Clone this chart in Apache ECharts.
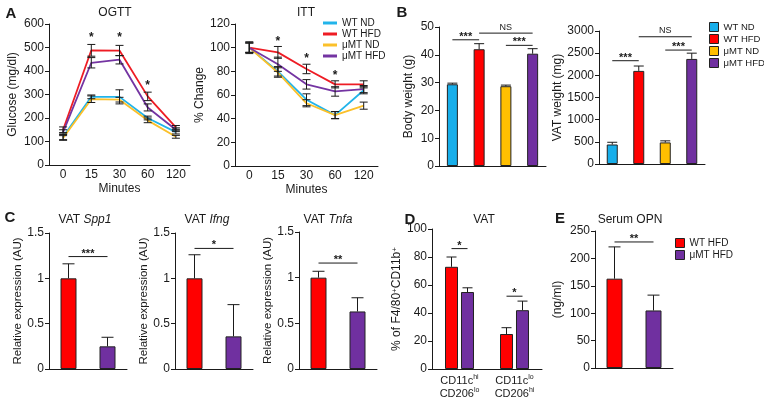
<!DOCTYPE html>
<html>
<head>
<meta charset="utf-8">
<script src="https://cdn.jsdelivr.net/npm/echarts/dist/echarts.min.js"></script>
<style>
html, body { margin: 0; padding: 0; background: #fff; }
#chart { width: 764px; height: 404px; }
</style>
</head>
<body>
<div id="chart"></div>
<script>
// ---- data ----
var groups = ['WT ND', 'WT HFD', 'μMT ND', 'μMT HFD'];
var minutes = ['0', '15', '30', '60', '120'];

// A: OGTT (mg/dl)
var ogttWtNd = [120, 290, 290, 200, 140];
var ogttWtNdErr = [12, 8, 30, 8, 8];
var ogttWtHfd = [150, 488, 487, 292, 160];
var ogttWtHfdErr = [12, 25, 22, 18, 8];
var ogttMtNd = [115, 280, 278, 190, 120];
var ogttMtNdErr = [10, 14, 10, 10, 6];
var ogttMtHfd = [140, 435, 448, 245, 150];
var ogttMtHfdErr = [10, 22, 18, 15, 8];
var ogttStarAt = [1, 2, 3];
var ogttStarY = [550, 550, 348];

// A: ITT (% change)
var ittWtNd = [100, 80, 56, 43, 64];
var ittWtNdErr = [4, 4, 5, 3, 3];
var ittWtHfd = [100, 96, 82, 69, 69];
var ittWtHfdErr = [5, 5, 4, 3, 3];
var ittMtNd = [100, 79, 53, 43, 51];
var ittMtNdErr = [4, 4, 3, 3, 3];
var ittMtHfd = [100, 86, 69, 63, 65];
var ittMtHfdErr = [4, 6, 4, 4, 3];
var ittStarAt = [1, 2, 3];
var ittStarY = [107, 92, 78];

// B
var bodyWeight = [29.4, 42, 28.7, 40.4];
var bodyWeightErr = [0.4, 2, 0.4, 1.8];
var bodySig = [[0, 1, 45.4], [1, 3, 47.8], [2, 3, 43.4]];
var bodySigText = ['***', 'NS', '***'];
var vatWeight = [440, 2100, 487, 2370];
var vatWeightErr = [50, 110, 35, 130];
var vatSig = [[0, 1, 2330], [1, 3, 2870], [2, 3, 2570]];
var vatSigText = ['***', 'NS', '***'];

// C (AU) - WT HFD vs uMT HFD
var hfdGroups = ['WT HFD', 'μMT HFD'];
var spp1 = [1, 0.25];
var spp1Err = [0.16, 0.1];
var ifng = [1, 0.36];
var ifngErr = [0.26, 0.35];
var tnfa = [1, 0.63];
var tnfaErr = [0.07, 0.15];
var spp1Sig = [[0, 1, 1.24]], ifngSig = [[0, 1, 1.33]], tnfaSig = [[0, 1, 1.16]];
var spp1SigText = ['***'], ifngSigText = ['*'], tnfaSigText = ['**'];

// D
var dCats = ['CD11c^hi CD206^lo', 'CD11c^lo CD206^hi'];
var dWt = [73, 25];
var dWtErr = [7, 4.5];
var dMt = [55, 42];
var dMtErr = [3, 6.5];
var dSig = [[0, 0, 86], [1, 1, 52]];
var dSigText = ['*', '*'];

// E
var opn = [163, 105];
var opnErr = [58, 28];
var opnSig = [[0, 1, 230]];
var opnSigText = ['**'];

// ---- styling ----
var FONT = '"Liberation Sans", Arial, Helvetica, sans-serif';
var INK = '#1a1a1a';
var lineColors = ['#22b4ea', '#ee1c24', '#fbc02a', '#7434a2'];
var barColors = ['#17aeea', '#ff0000', '#ffbf00', '#7030a0'];

var grids = [
  {left: 49, top: 24, width: 141, height: 141},
  {left: 235, top: 24, width: 143, height: 142},
  {left: 439, top: 27, width: 107, height: 139},
  {left: 599, top: 31, width: 106, height: 133},
  {left: 49, top: 233, width: 78, height: 136},
  {left: 175, top: 233, width: 78, height: 136},
  {left: 299, top: 232, width: 78, height: 137},
  {left: 432, top: 229, width: 110, height: 140},
  {left: 595, top: 231, width: 78, height: 137}
];
grids.forEach(function (g) { g.outerBoundsMode = 'none'; g.containLabel = false; });

function xCat(gi, data, showLabel, extra) {
  return Object.assign({
    type: 'category', gridIndex: gi, data: data,
    axisTick: {show: false},
    axisLine: {lineStyle: {color: INK, width: 1}},
    axisLabel: {show: showLabel, color: INK, fontSize: 12, margin: 4, fontFamily: FONT}
  }, extra || {});
}
function yVal(gi, max, interval, name, gap, extra) {
  return Object.assign({
    type: 'value', gridIndex: gi, min: 0, max: max, interval: interval,
    name: name, nameLocation: 'middle', nameGap: gap,
    nameTextStyle: {color: INK, fontSize: 12, fontFamily: FONT},
    axisLine: {show: true, lineStyle: {color: INK, width: 1}},
    axisTick: {show: true, length: 4, lineStyle: {color: INK}},
    axisLabel: {color: INK, fontSize: 12, margin: 5, fontFamily: FONT,
      formatter: function (v) { return String(v); }},
    splitLine: {show: false}
  }, extra || {});
}

function lineS(gi, name, vals, color) {
  return {type: 'line', name: name, xAxisIndex: gi, yAxisIndex: gi, data: vals,
    showSymbol: false, symbol: 'none', lineStyle: {color: color, width: 1.8},
    itemStyle: {color: color}, z: 3, silent: true};
}
function barS(gi, name, vals, color, w, gap) {
  return {type: 'bar', name: name, xAxisIndex: gi, yAxisIndex: gi, data: vals,
    barWidth: w, barGap: gap, silent: true,
    itemStyle: {color: color, borderColor: '#222', borderWidth: 1}};
}
function errBars(gi, vals, errs, mode, cap, dx) {
  return {type: 'custom', xAxisIndex: gi, yAxisIndex: gi, z: 5, silent: true,
    data: vals.map(function (v, i) { return [i, v, errs[i]]; }),
    renderItem: function (params, api) {
      var i = api.value(0), v = api.value(1), e = api.value(2);
      var p0 = api.coord([i, mode === 'up' ? v : v - e]);
      var p1 = api.coord([i, v + e]);
      var x = p0[0] + (dx || 0);
      var st = {stroke: INK, lineWidth: 1, fill: null};
      var ch = [
        {type: 'line', shape: {x1: x, y1: p0[1], x2: x, y2: p1[1]}, style: st},
        {type: 'line', shape: {x1: x - cap / 2, y1: p1[1], x2: x + cap / 2, y2: p1[1]}, style: st}
      ];
      if (mode !== 'up') ch.push({type: 'line', shape: {x1: x - cap / 2, y1: p0[1], x2: x + cap / 2, y2: p0[1]}, style: st});
      return {type: 'group', children: ch};
    }};
}
function sigLines(gi, items, labels, offs) {
  offs = offs || [0, 0];
  return {type: 'custom', xAxisIndex: gi, yAxisIndex: gi, z: 6, silent: true, data: items,
    renderItem: function (params, api) {
      var a = api.coord([api.value(0), api.value(2)]);
      var b = api.coord([api.value(1), api.value(2)]);
      var lab = labels[params.dataIndex];
      var x1 = a[0] + offs[0], x2 = b[0] + offs[1];
      var ns = lab === 'NS';
      return {type: 'group', children: [
        {type: 'line', shape: {x1: x1, y1: a[1], x2: x2, y2: a[1]}, style: {stroke: INK, lineWidth: 1}},
        {type: 'text', x: (x1 + x2) / 2, y: a[1] - (ns ? 6 : 3),
          style: {text: lab, fill: INK, font: (ns ? '9px ' : 'bold 11px ') + FONT,
            align: 'center', verticalAlign: 'middle', textAlign: 'center', textVerticalAlign: 'middle'}}
      ]};
    }};
}
function stars(gi, at, ys) {
  return {type: 'custom', xAxisIndex: gi, yAxisIndex: gi, z: 6, silent: true,
    data: at.map(function (c, k) { return [c, ys[k]]; }),
    renderItem: function (params, api) {
      var p = api.coord([api.value(0), api.value(1)]);
      return {type: 'text', x: p[0], y: p[1] + 2,
        style: {text: '*', fill: INK, font: 'bold 12px ' + FONT,
          align: 'center', verticalAlign: 'middle', textAlign: 'center', textVerticalAlign: 'middle'}};
    }};
}
function one(vals, k) { return vals.map(function (v, i) { return i === k ? v : '-'; }); }
function txt(x, y, text, font, rich) {
  return {type: 'text', x: x, y: y, silent: true,
    style: {text: text, font: font, fill: INK, rich: rich,
      align: 'center', verticalAlign: 'middle', textAlign: 'center', textVerticalAlign: 'middle'}};
}

var letterFont = '900 15px ' + FONT;
var titleFont = '12px ' + FONT;
var italicRich = {n: {fontSize: 12, fontFamily: FONT, color: INK}, i: {fontSize: 12, fontFamily: FONT, fontStyle: 'italic', color: INK}};

var series = [];
var ogtt = [ogttWtNd, ogttWtHfd, ogttMtNd, ogttMtHfd];
var ogttE = [ogttWtNdErr, ogttWtHfdErr, ogttMtNdErr, ogttMtHfdErr];
var itt = [ittWtNd, ittWtHfd, ittMtNd, ittMtHfd];
var ittE = [ittWtNdErr, ittWtHfdErr, ittMtNdErr, ittMtHfdErr];
groups.forEach(function (g, k) {
  series.push(lineS(0, g, ogtt[k], lineColors[k]));
  series.push(errBars(0, ogtt[k], ogttE[k], 'both', 8, 0));
  series.push(lineS(1, g, itt[k], lineColors[k]));
  series.push(errBars(1, itt[k], ittE[k], 'both', 8, 0));
});
series.push(stars(0, ogttStarAt, ogttStarY));
series.push(stars(1, ittStarAt, ittStarY));

groups.forEach(function (g, k) {
  series.push(barS(2, 'b:' + g, one(bodyWeight, k), barColors[k], 11, '-100%'));
  series.push(barS(3, 'b:' + g, one(vatWeight, k), barColors[k], 11, '-100%'));
});
series.push(errBars(2, bodyWeight, bodyWeightErr, 'up', 10, 0));
series.push(errBars(3, vatWeight, vatWeightErr, 'up', 10, 0));
series.push(sigLines(2, bodySig, bodySigText));
series.push(sigLines(3, vatSig, vatSigText));

var cSets = [[4, spp1, spp1Err, spp1Sig, spp1SigText], [5, ifng, ifngErr, ifngSig, ifngSigText],
             [6, tnfa, tnfaErr, tnfaSig, tnfaSigText], [8, opn, opnErr, opnSig, opnSigText]];
cSets.forEach(function (s) {
  series.push(barS(s[0], 'e:WT HFD', one(s[1], 0), barColors[1], 16, '-100%'));
  series.push(barS(s[0], 'e:μMT HFD', one(s[1], 1), barColors[3], 16, '-100%'));
  series.push(errBars(s[0], s[1], s[2], 'up', 12, 0));
  series.push(sigLines(s[0], s[3], s[4]));
});

series.push(barS(7, 'e:WT HFD', dWt, barColors[1], 13, '23%'));
series.push(barS(7, 'e:μMT HFD', dMt, barColors[3], 13, '23%'));
series.push(errBars(7, dWt, dWtErr, 'up', 10, -8));
series.push(errBars(7, dMt, dMtErr, 'up', 10, 8));
series.push(sigLines(7, dSig, dSigText, [-8, 8]));

var supRich = {
  a: {fontSize: 11, fontFamily: FONT, color: INK, lineHeight: 13},
  s: {fontSize: 7, fontFamily: FONT, color: INK, verticalAlign: 'top'}
};
var dNameRich = {
  a: {fontSize: 12, fontFamily: FONT, color: INK},
  s: {fontSize: 8, fontFamily: FONT, color: INK, verticalAlign: 'top'}
};
var expName = {color: INK, fontSize: 11.5, fontFamily: FONT};

var option = {
  animation: false,
  backgroundColor: '#fff',
  grid: grids,
  xAxis: [
    xCat(0, minutes, true, {name: 'Minutes', nameLocation: 'middle', nameGap: 18,
      nameTextStyle: {color: INK, fontSize: 12, fontFamily: FONT}}),
    xCat(1, minutes, true, {name: 'Minutes', nameLocation: 'middle', nameGap: 18,
      nameTextStyle: {color: INK, fontSize: 12, fontFamily: FONT}}),
    xCat(2, groups, false),
    xCat(3, groups, false),
    xCat(4, hfdGroups, false),
    xCat(5, hfdGroups, false),
    xCat(6, hfdGroups, false),
    xCat(7, dCats, true, {axisLabel: {show: true, margin: 5, interval: 0, rich: supRich,
      formatter: function (v) {
        return v.split(' ').map(function (p) { var q = p.split('^'); return '{a|' + q[0] + '}{s|' + q[1] + '}'; }).join('\n');
      }}}),
    xCat(8, hfdGroups, false)
  ],
  yAxis: [
    yVal(0, 600, 100, 'Glucose (mg/dl)', 30),
    yVal(1, 120, 20, '% Change', 24),
    yVal(2, 50, 10, 'Body weight (g)', 24),
    yVal(3, 3000, 500, 'VAT weight (mg)', 34),
    yVal(4, 1.5, 0.5, 'Relative expression (AU)', 20, {nameTextStyle: expName}),
    yVal(5, 1.5, 0.5, 'Relative expression (AU)', 19, {nameTextStyle: expName}),
    yVal(6, 1.5, 0.5, 'Relative expression (AU)', 20, {nameTextStyle: expName}),
    yVal(7, 100, 20, '{a|% of F4/80}{s|+}{a|CD11b}{s|+}', 20, {nameTextStyle: {color: INK, fontSize: 12, fontFamily: FONT, rich: dNameRich}}),
    yVal(8, 250, 50, '(ng/ml)', 31)
  ],
  legend: [
    {data: groups, orient: 'vertical', left: 323, top: 18, itemWidth: 14, itemHeight: 3, itemGap: 1,
      icon: 'rect', selectedMode: false, padding: 0,
      textStyle: {color: INK, fontSize: 10, fontFamily: FONT}},
    {data: groups.map(function (g) { return 'b:' + g; }), orient: 'vertical', left: 709, top: 22,
      itemWidth: 9, itemHeight: 9, itemGap: 2, icon: 'rect', selectedMode: false, padding: 0,
      itemStyle: {borderColor: '#222', borderWidth: 1},
      formatter: function (n) { return n.slice(2); },
      textStyle: {color: INK, fontSize: 9.5, fontFamily: FONT}},
    {data: ['e:WT HFD', 'e:μMT HFD'], orient: 'vertical', left: 675, top: 238,
      itemWidth: 9, itemHeight: 9, itemGap: 2, icon: 'rect', selectedMode: false, padding: 0,
      itemStyle: {borderColor: '#222', borderWidth: 1},
      formatter: function (n) { return n.slice(2); },
      textStyle: {color: INK, fontSize: 10, fontFamily: FONT}}
  ],
  graphic: [
    txt(11, 14, 'A', letterFont),
    txt(402, 13, 'B', letterFont),
    txt(10, 218, 'C', letterFont),
    txt(410, 220, 'D', letterFont),
    txt(560, 219, 'E', letterFont),
    txt(115, 13, 'OGTT', titleFont),
    txt(306, 13, 'ITT', titleFont),
    txt(85, 220, '{n|VAT }{i|Spp1}', titleFont, italicRich),
    txt(207, 220, '{n|VAT }{i|Ifng}', titleFont, italicRich),
    txt(328, 220, '{n|VAT }{i|Tnfa}', titleFont, italicRich),
    txt(484, 220, 'VAT', titleFont),
    txt(630, 220, 'Serum OPN', titleFont)
  ],
  series: series
};

var chart = echarts.init(document.getElementById('chart'), null, {renderer: 'canvas'});
chart.setOption(option);
</script>
</body>
</html>
